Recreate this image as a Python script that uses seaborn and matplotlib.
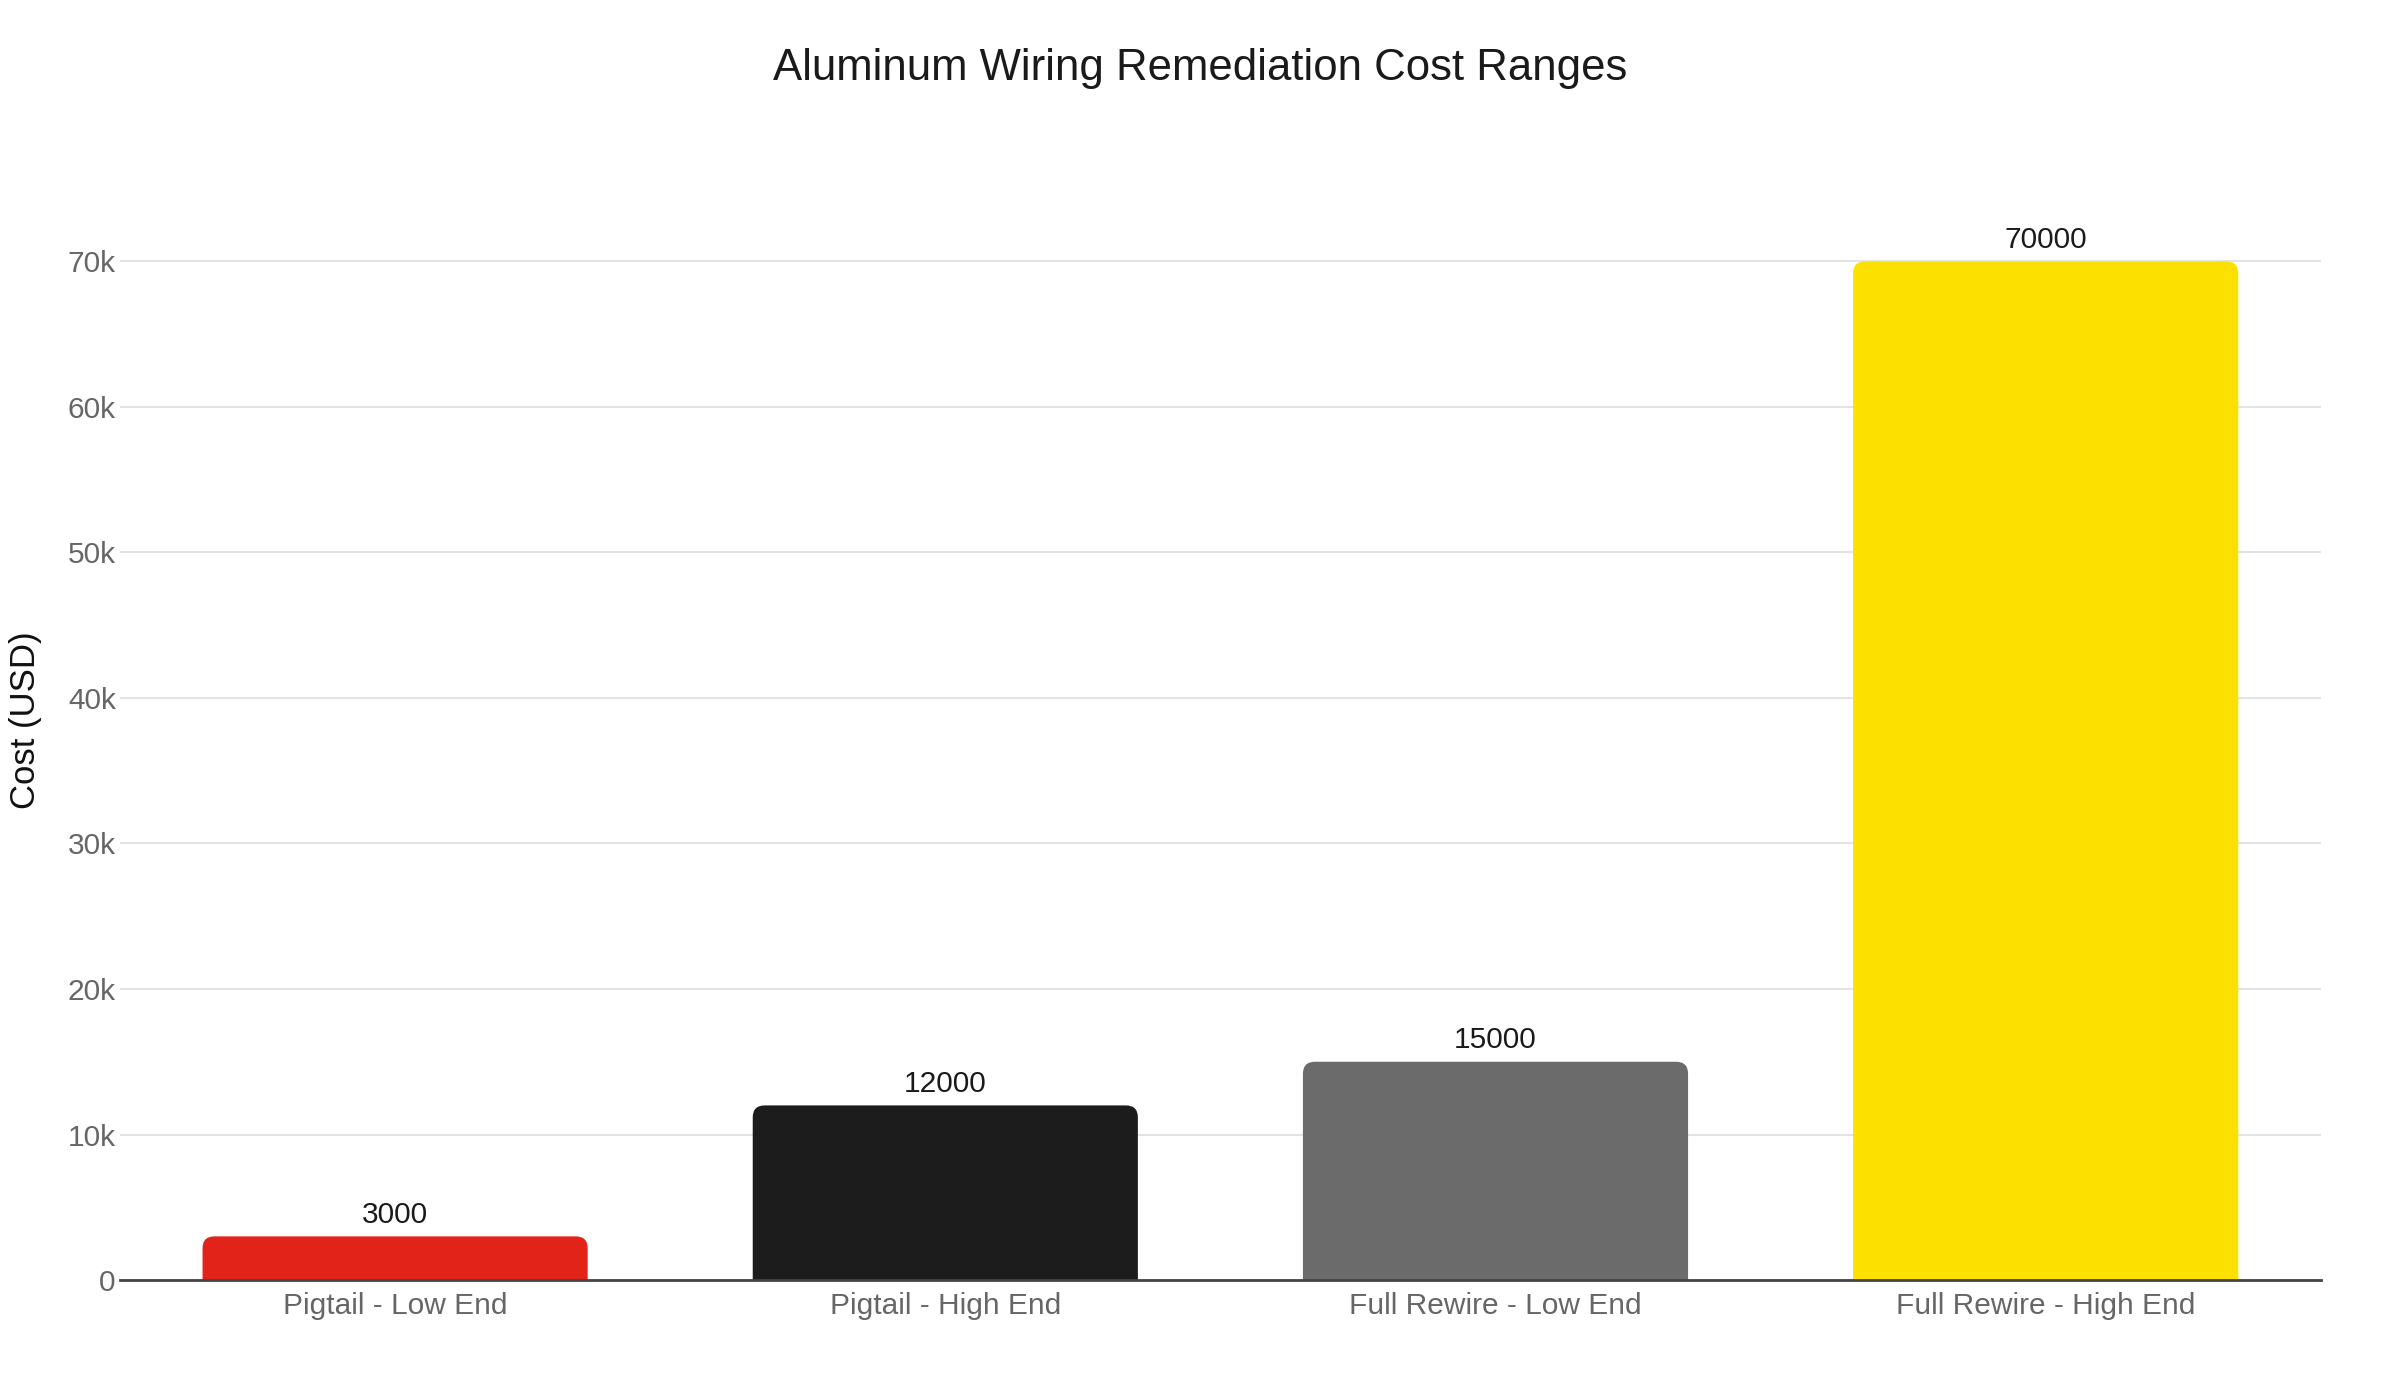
import matplotlib
matplotlib.use("Agg")
import matplotlib.pyplot as plt
import seaborn as sns
import pandas as pd
from matplotlib.patches import FancyBboxPatch
from matplotlib.ticker import FuncFormatter, MultipleLocator

categories = ["Pigtail - Low End", "Pigtail - High End", "Full Rewire - Low End", "Full Rewire - High End"]
costs = [3000, 12000, 15000, 70000]
colors = ["#E2231A", "#1C1C1C", "#6B6B6B", "#FCE100"]

df = pd.DataFrame({"category": categories, "cost": costs})

sns.set_style("white")
plt.rcParams["font.family"] = ["Liberation Sans", "DejaVu Sans"]

fig = plt.figure(figsize=(24, 14), dpi=100)
ax = fig.add_axes([0.05, 0.0857, 0.917, 0.766])

sns.barplot(data=df, x="category", y="cost", hue="category", palette=colors,
            width=0.7, saturation=1, legend=False, ax=ax, zorder=3)

ax.set_xlim(-0.5, 3.5)
ax.set_ylim(0, 73700)

# swap the plain bars for ones with rounded top corners
fig.canvas.draw()
bbox = ax.get_window_extent()
x_per_px = 4.0 / bbox.width
y_per_px = 73700 / bbox.height
r_px = 12
for p in list(ax.patches):
    x, w, h = p.get_x(), p.get_width(), p.get_height()
    fc = p.get_facecolor()
    p.remove()
    rb = FancyBboxPatch((x, -r_px * y_per_px), w, h + r_px * y_per_px,
                        boxstyle=f"round,pad=0,rounding_size={r_px * x_per_px}",
                        mutation_aspect=y_per_px / x_per_px,
                        facecolor=fc, edgecolor="none", zorder=3)
    ax.add_patch(rb)

for i, v in enumerate(costs):
    ax.text(i, v + 500, str(v), ha="center", va="bottom", fontsize=21.5, color="#1a1a1a")

ax.yaxis.set_major_locator(MultipleLocator(10000))
ax.yaxis.set_major_formatter(FuncFormatter(lambda v, _: "0" if v == 0 else f"{int(v / 1000)}k"))
ax.grid(axis="y", color="#e3e3e3", linewidth=1.5, zorder=0)
ax.set_axisbelow(True)

for s in ["top", "right", "left"]:
    ax.spines[s].set_visible(False)
ax.spines["bottom"].set_color("#444444")
ax.spines["bottom"].set_linewidth(2)
ax.spines["bottom"].set_zorder(4)

ax.tick_params(axis="both", length=0, labelsize=21.5, labelcolor="#666666")
ax.tick_params(axis="x", pad=8.5)
ax.tick_params(axis="y", pad=3)

ax.set_xlabel("")
ax.set_ylabel("Cost (USD)", fontsize=25, color="#111111", va="center")
ax.yaxis.set_label_coords(-0.043, 0.522)

fig.suptitle("Aluminum Wiring Remediation Cost Ranges", fontsize=31.5, color="#1a1a1a", y=0.966)

plt.savefig("out.png")
plt.close()
